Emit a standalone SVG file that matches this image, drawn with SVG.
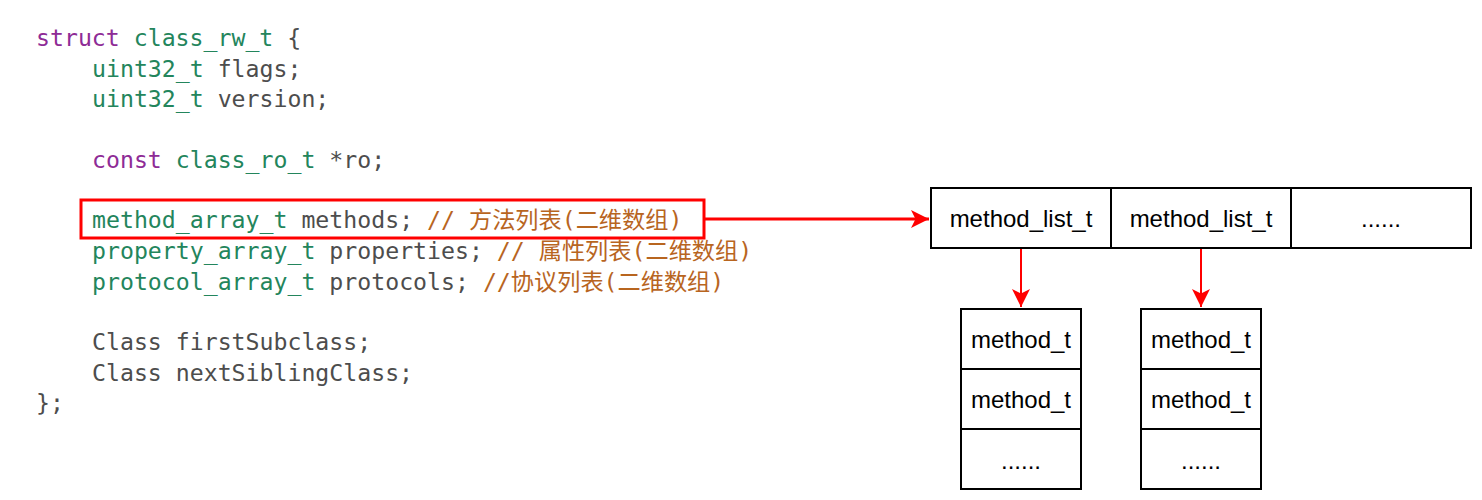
<svg xmlns="http://www.w3.org/2000/svg" width="1482" height="500" viewBox="0 0 1482 500">
<defs>
<style>
.code{font-family:"DejaVu Sans Mono","Noto Sans CJK SC",monospace;font-size:23.2px;fill:#4d4d4d;white-space:pre}
.kw{fill:#8e2b96}
.ty{fill:#23855c}
.cm{fill:#b8651f}
.box{fill:#fff;stroke:#000;stroke-width:2}
.lbl{font-family:"Liberation Sans",Arial,sans-serif;font-size:24px;fill:#000;text-anchor:middle}
.conn{stroke:#f00;stroke-width:2;fill:none}
.thick{stroke-width:3}
</style>
<marker id="ah2" markerWidth="18" markerHeight="18" viewBox="0 0 10 10" refX="10" refY="5" orient="auto" markerUnits="userSpaceOnUse">
<path d="M0,0 L10,5 L0,10 L2.5,5 Z" fill="#f00"/>
</marker>
</defs>
<rect width="1482" height="500" fill="#fff"/>
<g id="code">
<text class="code" x="36" y="46"><tspan class="kw">struct</tspan> <tspan class="ty">class_rw_t</tspan> {</text>
<text class="code" x="92" y="77"><tspan class="ty">uint32_t</tspan> flags;</text>
<text class="code" x="92" y="107"><tspan class="ty">uint32_t</tspan> version;</text>
<text class="code" x="92" y="168"><tspan class="kw">const</tspan> <tspan class="ty">class_ro_t</tspan> *ro;</text>
<text class="code" x="92" y="228"><tspan class="ty">method_array_t</tspan> methods; <tspan class="cm">// 方法列表(二维数组)</tspan></text>
<text class="code" x="92" y="259"><tspan class="ty">property_array_t</tspan> properties; <tspan class="cm">// 属性列表(二维数组)</tspan></text>
<text class="code" x="92" y="290"><tspan class="ty">protocol_array_t</tspan> protocols; <tspan class="cm">//协议列表(二维数组)</tspan></text>
<text class="code" x="92" y="350">Class firstSubclass;</text>
<text class="code" x="92" y="381">Class nextSiblingClass;</text>
<text class="code" x="36" y="411">};</text>
</g>
<g id="highlight">
<rect x="81" y="200" width="623" height="38" fill="none" stroke="#f00" stroke-width="3"/>
</g>
<g id="method_lists">
<rect class="box" x="931" y="188" width="180" height="60"/>
<text class="lbl" x="1021" y="227">method_list_t</text>
<rect class="box" x="1111" y="188" width="180" height="60"/>
<text class="lbl" x="1201" y="227">method_list_t</text>
<rect class="box" x="1291" y="188" width="180" height="60"/>
<text class="lbl" x="1381" y="227">......</text>
</g>
<g id="methods1">
<rect class="box" x="961" y="309" width="120" height="60"/>
<text class="lbl" x="1021" y="348">method_t</text>
<rect class="box" x="961" y="369" width="120" height="60"/>
<text class="lbl" x="1021" y="408">method_t</text>
<rect class="box" x="961" y="429" width="120" height="60"/>
<text class="lbl" x="1021" y="469">......</text>
</g>
<g id="methods2">
<rect class="box" x="1141" y="309" width="120" height="60"/>
<text class="lbl" x="1201" y="348">method_t</text>
<rect class="box" x="1141" y="369" width="120" height="60"/>
<text class="lbl" x="1201" y="408">method_t</text>
<rect class="box" x="1141" y="429" width="120" height="60"/>
<text class="lbl" x="1201" y="469">......</text>
</g>
<g id="connectors">
<line class="conn thick" x1="705" y1="219" x2="929" y2="219" marker-end="url(#ah2)"/>
<line class="conn" x1="1021" y1="249" x2="1021" y2="307" marker-end="url(#ah2)"/>
<line class="conn" x1="1201" y1="249" x2="1201" y2="307" marker-end="url(#ah2)"/>
</g>
</svg>
